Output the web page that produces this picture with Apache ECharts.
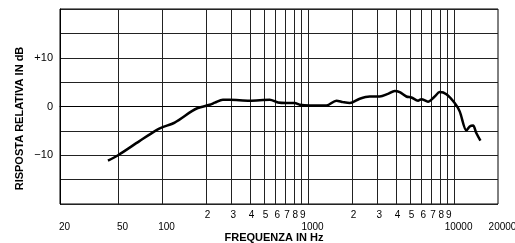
<!DOCTYPE html>
<html>
<head>
<meta charset="utf-8">
<script src="https://cdn.jsdelivr.net/npm/echarts@6/dist/echarts.min.js"></script>
<style>
  html, body { margin: 0; padding: 0; background: #fff; }
  #chart { width: 515px; height: 243px; }
</style>
</head>
<body>
<div id="chart"></div>
<script>
  // risposta in frequenza
  var freqs = [42.6, 50, 70, 91, 100, 122, 159, 176, 212, 230, 261, 290, 398, 546, 623, 711, 810, 877,
    1027, 1336, 1564, 1735, 1930, 2259, 2644, 3096, 3529, 3923, 4244, 4715, 5105, 5665, 5974, 6630,
    7370, 7977, 8864, 10100, 10930, 12150, 12800, 13490, 14230, 15160]
  var gains = [-11.1, -10, -7.1, -4.9, -4.3, -3.3, -1.0, -0.3, 0.35, 0.8, 1.4, 1.4, 1.2, 1.4, 0.8, 0.7, 0.7, 0.35,
    0.2, 0.2, 1.2, 0.9, 0.7, 1.6, 2.05, 2.05, 2.6, 3.2, 2.95, 2.05, 1.85, 1.2, 1.5, 1.0,
    2.05, 2.95, 2.5, 0.7, -1.0, -4.9, -4.1, -3.9, -5.5, -7.0]

  var gridFreqs = [50, 100, 200, 300, 400, 500, 600, 700, 800, 900, 1000,
    2000, 3000, 4000, 5000, 6000, 7000, 8000, 9000, 10000]
  var lowLabels = [20, 50, 100, 1000, 10000, 20000]
  var highLabels = [200, 300, 400, 500, 600, 700, 800, 900, 2000, 3000, 4000, 5000, 6000, 7000, 8000, 9000]
  var yLabels = { '10': '+10', '0': '0', '-10': '\u221210' }

  var chart = echarts.init(document.getElementById('chart'))

  var points = freqs.map(function (f, i) { return [f, gains[i]] })

  chart.setOption({
    animation: false,
    grid: {
      left: 60, right: 17, top: 9, bottom: 39,
      outerBoundsMode: 'none',
      containLabel: false,
      show: true,
      borderColor: '#000',
      borderWidth: 1
    },
    xAxis: {
      type: 'log',
      logBase: 10,
      min: 20,
      max: 20000,
      name: 'FREQUENZA IN Hz',
      nameLocation: 'middle',
      nameGap: 28,
      nameMoveOverlap: false,
      nameTextStyle: { fontFamily: 'Liberation Sans', fontWeight: 'bold', fontSize: 11, color: '#000', padding: [0, 10, 0, 0] },
      axisLine: { show: true, lineStyle: { color: '#000', width: 1 } },
      axisTick: { show: false, customValues: gridFreqs },
      splitLine: { show: true, lineStyle: { color: '#222', width: 1 } },
      axisLabel: {
        customValues: lowLabels.concat(highLabels),
        margin: 6,
        fontFamily: 'Liberation Sans',
        fontSize: 10,
        color: '#000',
        formatter: function (v) {
          if (lowLabels.indexOf(v) >= 0) return '{lo|' + v + '}'
          return '{hi|' + String(v).charAt(0) + '}'
        },
        rich: {
          lo: { fontFamily: 'Liberation Sans', fontSize: 10, color: '#000', padding: [12, 0, 0, 9] },
          hi: { fontFamily: 'Liberation Sans', fontSize: 10, color: '#000', padding: [0, 0, 0, 3] }
        }
      }
    },
    yAxis: {
      type: 'value',
      min: -20,
      max: 20,
      interval: 5,
      name: 'RISPOSTA RELATIVA IN dB',
      nameLocation: 'middle',
      nameGap: 35,
      nameMoveOverlap: false,
      nameTextStyle: { fontFamily: 'Liberation Sans', fontWeight: 'bold', fontSize: 11, color: '#000', padding: [0, 24, 0, 0] },
      axisLine: { show: true, lineStyle: { color: '#000', width: 1 } },
      axisTick: { show: false },
      splitLine: { show: true, lineStyle: { color: '#222', width: 1 } },
      axisLabel: {
        margin: 7,
        fontFamily: 'Liberation Sans',
        fontSize: 11,
        color: '#000',
        formatter: function (v) { return yLabels[String(v)] || '' }
      }
    },
    series: [{
      type: 'line',
      data: points,
      smooth: 0.3,
      showSymbol: false,
      symbol: 'none',
      lineStyle: { color: '#000', width: 2.5 }
    }]
  })
</script>
</body>
</html>
